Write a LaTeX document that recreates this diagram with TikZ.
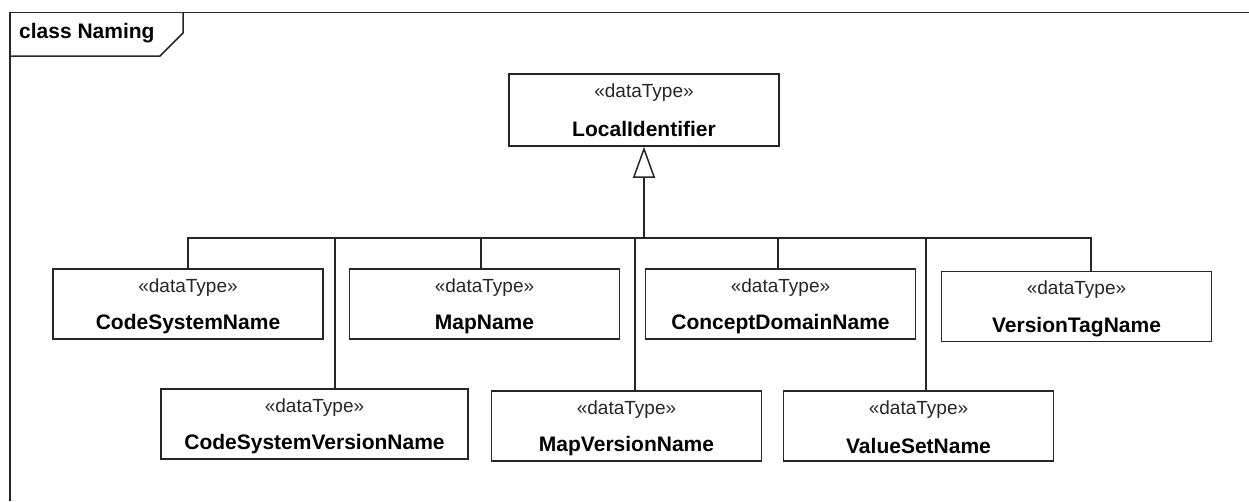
\documentclass[tikz,border=0pt]{standalone}
\usepackage{fontspec}
\setmainfont{Liberation Sans}
\usetikzlibrary{arrows.meta}

\begin{document}
\begin{tikzpicture}[x=1pt,y=-1pt,
  ln/.style={line width=1.5pt, draw=black!85},
  cls/.style={ln, draw, rectangle, fill=white, inner sep=0pt,
              minimum width=270pt, minimum height=70pt},
  stereo/.style={font=\fontsize{19}{21}\selectfont, text=black!85, inner sep=0pt},
  cname/.style={font=\fontsize{21}{24}\selectfont\bfseries, inner sep=0pt},
  gen/.style={ln, -{Triangle[open, length=31pt, width=22pt]}}
]
\useasboundingbox (0,0) rectangle (1249,501);

% diagram frame and its name tab
\draw[ln] (10,501) -- (10,12.5) -- (1249,12.5);
\draw[ln] (10,56) -- (160,56) -- (183,33) -- (183,12.5);
\node[cname, anchor=west] (title) at (19,33) {class Naming};

% classes: box, stereotype and name
\newcommand{\umlclass}[4][]{%
  \node[cls,#1] (#2) at #3 {};
  \node[stereo] (#2-st) at ([yshift=-19pt]#2.north) {«dataType»};
  \node[cname]  (#2-nm) at ([yshift=-56pt]#2.north) {#4};
}
\umlclass[minimum height=72pt]{li}{(644,110)}{LocalIdentifier}

\umlclass{csn}{(188,304)}{CodeSystemName}
\umlclass{mn}{(484.5,304)}{MapName}
\umlclass{cdn}{(780.5,304)}{ConceptDomainName}
\umlclass{vtn}{(1076.5,306.5)}{VersionTagName}
\umlclass[minimum width=307pt]{csvn}{(314.5,424)}{CodeSystemVersionName}
\umlclass{mvn}{(626.5,426)}{MapVersionName}
\umlclass{vsn}{(918.5,426)}{ValueSetName}

% generalization tree
\coordinate (bus) at (644,238);
\coordinate (pcsn)  at (csn.north);
\coordinate (pmn)   at ([xshift=-3.5pt]mn.north);
\coordinate (pcdn)  at ([xshift=-2.5pt]cdn.north);
\coordinate (pvtn)  at ([xshift=14.5pt]vtn.north);
\coordinate (pcsvn) at ([xshift=20.5pt]csvn.north);
\coordinate (pmvn)  at ([xshift=8.5pt]mvn.north);
\coordinate (pvsn)  at ([xshift=7.5pt]vsn.north);

\foreach \p in {pcsn,pmn,pcdn,pvtn,pcsvn,pmvn,pvsn}
  \draw[ln] (\p) |- (bus);

\draw[gen] (bus) -- (li.south);
\end{tikzpicture}
\end{document}
